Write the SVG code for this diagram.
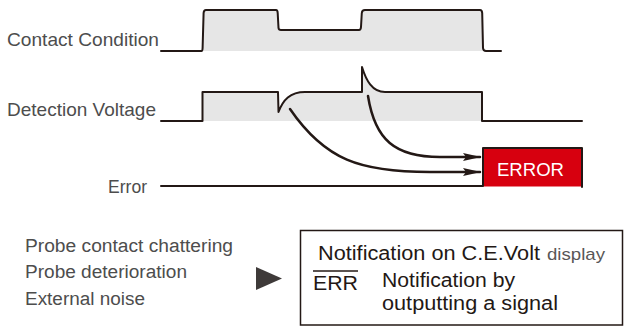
<svg xmlns="http://www.w3.org/2000/svg" width="625" height="327" viewBox="0 0 625 327">
<style>
.lbl{font-family:"Liberation Sans",Arial,Helvetica,sans-serif;fill:#4d4d4d}
.dk{font-family:"Liberation Sans",Arial,Helvetica,sans-serif;fill:#231815}
.wave{fill:none;stroke:#231815;stroke-width:2;stroke-linejoin:round;stroke-linecap:round}
.fill{fill:#e6e6e6;stroke:none}
.arr{fill:none;stroke:#231815;stroke-width:2.5;stroke-linecap:round}
</style>
<defs>
<marker id="ah" viewBox="0 0 18 8" refX="17" refY="4" markerWidth="18" markerHeight="8" markerUnits="userSpaceOnUse" orient="auto">
<path d="M0,0 L18,4 L0,8 L3,4 Z" fill="#231815"/>
</marker>
</defs>
<rect width="625" height="327" fill="#ffffff"/>

<g id="contact-condition">
<path class="fill" d="M202,51 L204,10 L277,10 L280,30 L361,30 L363,10 L482,10 L484,51 Z"/>
<path class="wave" d="M161,51 H201.5 Q202.5,51 202.6,48 L203.6,13 Q203.8,10 206,10 H276 Q277.6,10 277.7,13 L278.5,28 Q278.7,30 281,30 H359 Q360.8,30 361,27 L361.8,13 Q362,10 365,10 H480 Q482,10 482.2,13 L483,48 Q483.3,51 486,51 H501"/>
<text class="lbl" x="7" y="46" font-size="19" textLength="152" lengthAdjust="spacingAndGlyphs">Contact Condition</text>
</g>

<g id="detection-voltage">
<path class="fill" d="M203,121 L203,92 L278,92 L278.5,112 C283,100 290,92 305,92 L362,92 L362,67 C366,80 372,92 385,92 L482,92 L482,121 Z"/>
<path class="wave" d="M161,121 H202.5 V92 H278 L278.5,112 C283,100 290,92 305,92 H362 V67 C366,80 372,92 385,92 H482 V121 H582"/>
<text class="lbl" x="7" y="116" font-size="19" textLength="149" lengthAdjust="spacingAndGlyphs">Detection Voltage</text>
</g>

<g id="error-signal">
<rect x="483" y="148" width="99" height="38.5" fill="#d7000f"/>
<path class="wave" d="M161,186 H483 V148 H582 V187"/>
<text x="497" y="176" font-size="17.5" textLength="67" lengthAdjust="spacingAndGlyphs" style="font-family:'Liberation Sans',Arial,Helvetica,sans-serif;fill:#ffffff">ERROR</text>
<text class="lbl" x="108" y="193" font-size="19" textLength="39" lengthAdjust="spacingAndGlyphs">Error</text>
</g>

<g id="connectors">
<path class="arr" d="M290,109 C325,160 360,172 430,172 L480,172" marker-end="url(#ah)"/>
<path class="arr" d="M368,96 C375,140 395,157 440,157 L480,157" marker-end="url(#ah)"/>
</g>

<g id="causes">
<text class="lbl" x="25" y="251.5" font-size="18" textLength="208" lengthAdjust="spacingAndGlyphs">Probe contact chattering</text>
<text class="lbl" x="25" y="278" font-size="18" textLength="162" lengthAdjust="spacingAndGlyphs">Probe deterioration</text>
<text class="lbl" x="25" y="305" font-size="18" textLength="120" lengthAdjust="spacingAndGlyphs">External noise</text>
</g>

<g id="pointer">
<path d="M256,267 L282,278.5 L256,290 Z" fill="#3e3a39"/>
</g>

<g id="notification-box">
<rect x="300.5" y="230.5" width="322" height="94.5" fill="#ffffff" stroke="#231815" stroke-width="1.5"/>
<text class="dk" x="318" y="260" font-size="20" textLength="222" lengthAdjust="spacingAndGlyphs">Notification on C.E.Volt</text>
<text x="547" y="260" font-size="17" textLength="58" lengthAdjust="spacingAndGlyphs" style="font-family:'Liberation Sans',Arial,Helvetica,sans-serif;fill:#595757">display</text>
<line x1="313" y1="271" x2="358" y2="271" stroke="#231815" stroke-width="1.3"/>
<text class="dk" x="313" y="290" font-size="21" textLength="45" lengthAdjust="spacingAndGlyphs">ERR</text>
<text class="dk" x="382" y="286.5" font-size="20" textLength="133" lengthAdjust="spacingAndGlyphs">Notification by</text>
<text class="dk" x="382" y="310" font-size="20" textLength="176" lengthAdjust="spacingAndGlyphs">outputting a signal</text>
</g>
</svg>
